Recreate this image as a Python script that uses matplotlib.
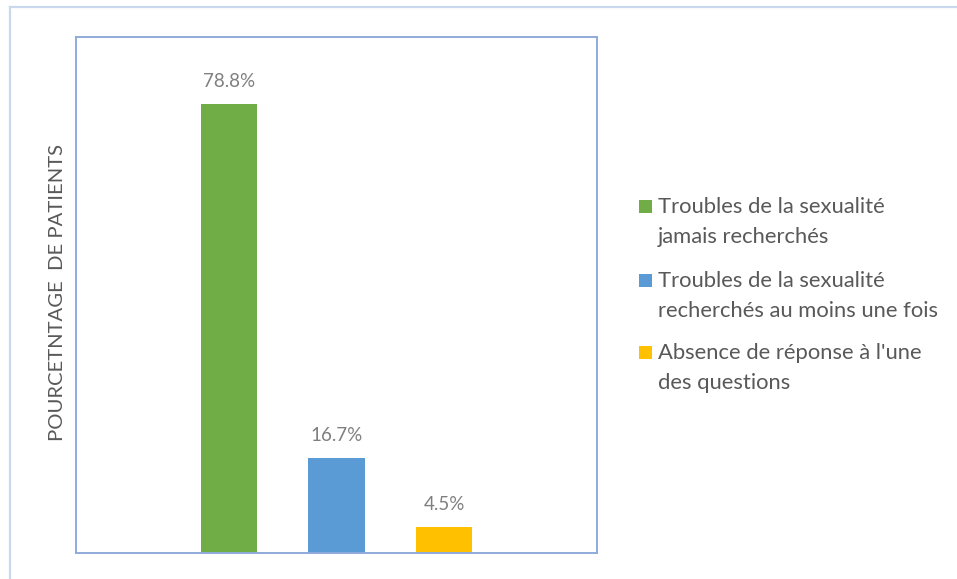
import matplotlib
matplotlib.use("Agg")
import matplotlib.pyplot as plt
from matplotlib.lines import Line2D
from matplotlib.patches import Rectangle

plt.rcParams["font.family"] = ["Lato", "DejaVu Sans"]

# Share of patients per answer group (%)
series_labels = [
    "Troubles de la sexualité\njamais recherchés",
    "Troubles de la sexualité\nrecherchés au moins une fois",
    "Absence de réponse à l'une\ndes questions",
]
percentages = [78.8, 16.7, 4.5]
bar_colors = ["#70AD47", "#5B9BD5", "#FFC000"]

W, H = 957, 579
DPI = 100


def fx(px):
    return px / W


def fy(py):
    return 1 - py / H


fig = plt.figure(figsize=(W / DPI, H / DPI), dpi=DPI)

# light outer frame around the chart object
frame_color = "#CAD8EE"
fig.add_artist(Line2D([fx(9.5), 1], [fy(6.5), fy(6.5)], transform=fig.transFigure,
                      color=frame_color, lw=1.6))
fig.add_artist(Line2D([fx(9.5), fx(9.5)], [fy(6.5), 0], transform=fig.transFigure,
                      color=frame_color, lw=1.6))

ax = fig.add_axes([fx(76), fy(553), fx(597) - fx(76), fy(37) - fy(553)])
positions = list(range(len(percentages)))
bars = ax.bar(positions, percentages, width=0.53, color=bar_colors)

ax.set_xlim(1 - 2.4233, 1 + 2.4233)
ax.set_ylim(0, 90.56)
ax.set_xticks([])
ax.set_yticks([])
for spine in ax.spines.values():
    spine.set_color("#8FAADC")
    spine.set_linewidth(1.4)

for bar, value in zip(bars, percentages):
    ax.annotate(f"{value}%", (bar.get_x() + bar.get_width() / 2, value),
                xytext=(0, 12.2), textcoords="offset points",
                ha="center", va="baseline", fontsize=13.5, color="#7F7F7F")

fig.text(fx(57.5), fy(293), "POURCETNTAGE  DE PATIENTS", rotation=90,
         ha="center", va="center", fontsize=14.6, color="#595959")

# legend drawn line by line so the swatch sits on the first line
baselines = [(213, 243), (287, 317), (359, 389)]
for label, color, (b1, b2) in zip(series_labels, bar_colors, baselines):
    fig.add_artist(Rectangle((fx(639), fy(b1)), fx(13), fy(0) - fy(13),
                             transform=fig.transFigure, color=color, lw=0))
    first, second = label.split("\n")
    fig.text(fx(658), fy(b1), first, ha="left", va="baseline",
             fontsize=15.8, color="#595959")
    fig.text(fx(658), fy(b2), second, ha="left", va="baseline",
             fontsize=15.8, color="#595959")

fig.savefig("out.png", dpi=DPI)
